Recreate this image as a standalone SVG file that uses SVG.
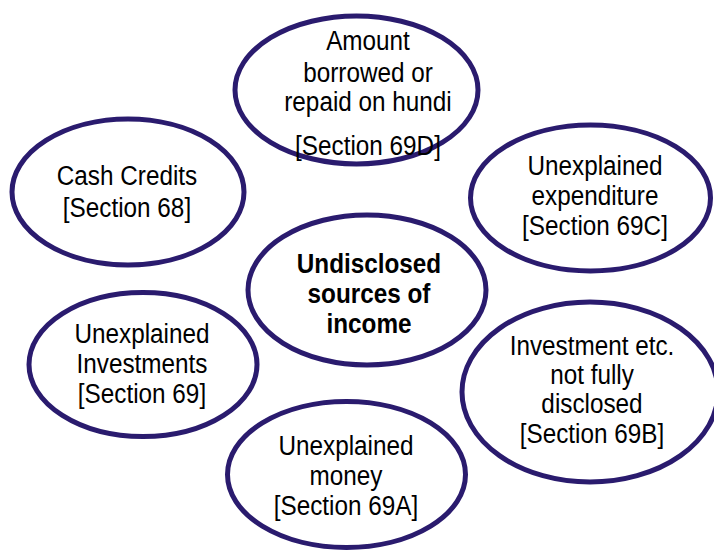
<svg xmlns="http://www.w3.org/2000/svg" width="714" height="551" viewBox="0 0 714 551">
<style>
.node ellipse{fill:#ffffff;stroke:#2a1b6e;stroke-width:5}
.node text{font-family:"Liberation Sans",Arial,sans-serif;font-size:27px;fill:#000000;text-anchor:middle}
.node text.b{font-weight:bold}
</style>
<rect width="714" height="551" fill="#ffffff"/>
<g id="connectors"></g>
<g id="n69D" class="node">
<ellipse cx="356.5" cy="90" rx="121.5" ry="74"/>
<g transform="translate(368 0) scale(0.9 1)">
<text x="0" y="50">Amount</text>
<text x="0" y="82">borrowed or</text>
<text x="0" y="111">repaid on hundi</text>
<text x="0" y="155">[Section 69D]</text>
</g>
</g>
<g id="n68" class="node">
<ellipse cx="128" cy="192" rx="116" ry="73"/>
<g transform="translate(127 0) scale(0.9 1)">
<text x="0" y="185">Cash Credits</text>
<text x="0" y="217">[Section 68]</text>
</g>
</g>
<g id="n69C" class="node">
<ellipse cx="590.5" cy="198" rx="120" ry="73"/>
<g transform="translate(595 0) scale(0.9 1)">
<text x="0" y="175">Unexplained</text>
<text x="0" y="205">expenditure</text>
<text x="0" y="235">[Section 69C]</text>
</g>
</g>
<g id="center" class="node">
<ellipse cx="367" cy="290" rx="119" ry="75"/>
<g transform="translate(369 0) scale(0.9 1)">
<text class="b" x="0" y="273">Undisclosed</text>
<text class="b" x="0" y="303">sources of</text>
<text class="b" x="0" y="333">income</text>
</g>
</g>
<g id="n69" class="node">
<ellipse cx="143" cy="364.5" rx="114" ry="72"/>
<g transform="translate(142 0) scale(0.9 1)">
<text x="0" y="343">Unexplained</text>
<text x="0" y="373">Investments</text>
<text x="0" y="403">[Section 69]</text>
</g>
</g>
<g id="n69B" class="node">
<ellipse cx="590" cy="392" rx="128" ry="90"/>
<g transform="translate(592 0) scale(0.9 1)">
<text x="0" y="355">Investment etc.</text>
<text x="0" y="384">not fully</text>
<text x="0" y="413">disclosed</text>
<text x="0" y="443">[Section 69B]</text>
</g>
</g>
<g id="n69A" class="node">
<ellipse cx="346.5" cy="474.5" rx="119" ry="73"/>
<g transform="translate(346 0) scale(0.9 1)">
<text x="0" y="455">Unexplained</text>
<text x="0" y="485">money</text>
<text x="0" y="515">[Section 69A]</text>
</g>
</g>
</svg>
